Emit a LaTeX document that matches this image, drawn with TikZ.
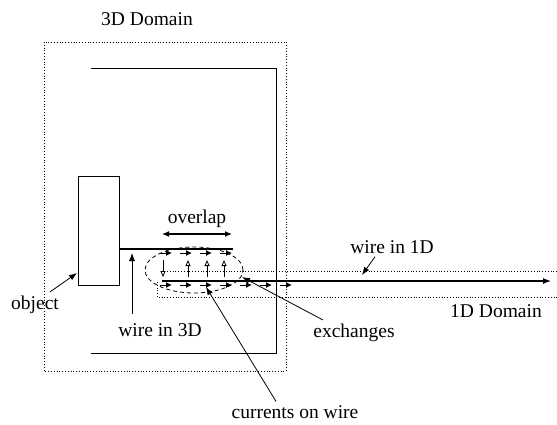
\documentclass[tikz,border=0pt]{standalone}
\usepackage{fontspec}
\setmainfont{Liberation Serif}
\usetikzlibrary{arrows.meta, positioning, shapes.geometric}

\begin{document}
\begin{tikzpicture}[x=1pt, y=-1pt, font=\fontsize{19.5}{23}\selectfont,
    >={Latex[length=8pt,width=6pt]}]

    \tikzstyle{domainline} = [draw, dotted, line width=0.8pt]
    \tikzstyle{frame} = [draw, line width=0.9pt]
    \tikzstyle{wire} = [draw, line width=1.1pt]
    \tikzstyle{objbox} = [draw, rectangle, line width=0.9pt, minimum width=41pt, minimum height=109pt, inner sep=0pt]
    \tikzstyle{zone} = [draw, ellipse, dashed, line width=0.8pt, dash pattern=on 4pt off 3pt, minimum width=98pt, minimum height=46pt]
    \tikzstyle{cur} = [line width=1pt, -{Latex[length=6pt,width=6pt]}]
    \tikzstyle{flux} = [line width=0.8pt, -{Triangle[open,length=6pt,width=5pt]}]
    \tikzstyle{ptr} = [line width=0.8pt, ->]

    \useasboundingbox (0,0) rectangle (557,424);

    % Domains
    \draw[domainline] (44,42) rectangle (286,371);
    \draw[domainline] (557,271) -- (163,271);
    \draw[domainline] (157,282) -- (157,297) -- (557,297);

    % Frame of the 3D model
    \draw[frame] (91,68) -- (276,68) -- (276,353) -- (91,353);

    % Object with its wire
    \node[objbox] (object) at (98.5,230.5) {};
    \coordinate (wend) at (233,249);
    \draw[wire] ([yshift=-18.5pt]object.east) -- (wend);

    % Wire in 1D
    \coordinate (wstart) at (162,281);
    \coordinate (wtip) at (551,281);
    \draw[wire, ->] (wstart) -- (wtip);

    % Overlap zone
    \node[zone] (zone) at (194,270) {};
    \foreach \x in {160,180,...,220}
        \draw[cur] (\x,253) -- ++(12,0);
    \foreach \x in {160,180,...,280}
        \draw[cur] (\x,285) -- ++(12,0);
    \draw[flux] (163,260) -- (163,277);
    \foreach \x in {188,207,224}
        \draw[flux] (\x,277) -- (\x,260);

    % Overlap
    \coordinate (ovl) at (162,234);
    \coordinate (ovr) at (232,234);
    \draw[line width=1.2pt, <->, >={Latex[length=7pt,width=6pt]}] (ovl) -- (ovr);
    \node[anchor=base] (ovlbl) at (197,223) {overlap};

    % Labels
    \node[anchor=base] (dom3d) at (147,25) {3D Domain};
    \node[anchor=base] (dom1d) at (496,317) {1D Domain};
    \node[anchor=base] (objlbl) at (35,309) {object};
    \node[anchor=base] (w3d) at (160,336) {wire in 3D};
    \node[anchor=base] (w1d) at (392,253) {wire in 1D};
    \node[anchor=base] (exch) at (354,337) {exchanges};
    \node[anchor=base] (curlbl) at (295,418) {currents on wire};

    % Pointers
    \coordinate (objtip) at (77,273);
    \coordinate (w3dtip) at (132,253);
    \coordinate (w1dtip) at (362,275);
    \coordinate (exchtip) at (242,277);
    \coordinate (curtip) at (206,287);

    \draw[ptr] ([xshift=15pt]objlbl.north) -- (objtip);
    \draw[ptr] ([xshift=-28pt, yshift=6pt]w3d.north) -- (w3dtip);
    \draw[ptr] ([xshift=-17pt]w1d.south) -- (w1dtip);
    \draw[ptr] ([xshift=13pt]exch.north west) -- (exchtip);
    \draw[ptr] ([xshift=48pt]curlbl.north west) -- (curtip);

\end{tikzpicture}
\end{document}
